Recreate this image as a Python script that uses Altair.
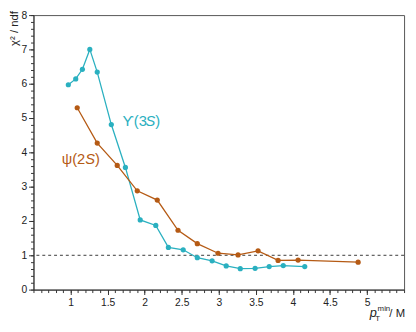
import altair as alt
import pandas as pd

# Upsilon(3S) series
ups_x = [0.97, 1.07, 1.16, 1.26, 1.36, 1.55, 1.74, 1.94, 2.15, 2.32, 2.52, 2.71, 2.91, 3.10, 3.29, 3.49, 3.68, 3.87, 4.16]
ups_y = [5.97, 6.14, 6.42, 7.00, 6.34, 4.81, 3.56, 2.03, 1.87, 1.23, 1.16, 0.93, 0.84, 0.69, 0.61, 0.62, 0.67, 0.70, 0.67]
# psi(2S) series
psi_x = [1.09, 1.36, 1.63, 1.90, 2.17, 2.45, 2.71, 2.99, 3.26, 3.53, 3.80, 4.07, 4.88]
psi_y = [5.30, 4.27, 3.62, 2.88, 2.61, 1.73, 1.34, 1.06, 1.01, 1.13, 0.85, 0.86, 0.80]

x_major = [1, 1.5, 2, 2.5, 3, 3.5, 4, 4.5, 5]
x_minor = [round(0.5 + 0.1 * i, 2) for i in range(51)]
y_major = [0, 1, 2, 3, 4, 5, 6, 7, 8]
y_minor = [round(0.2 * i, 2) for i in range(41)]

TEAL = "#2AB0C0"
ORANGE = "#B55A14"
FONT = "Liberation Sans"

ups = pd.DataFrame({"x": ups_x, "y": ups_y})
psi = pd.DataFrame({"x": psi_x, "y": psi_y})

xs = alt.Scale(domain=[0.5, 5.5], nice=False, zero=False)
ys = alt.Scale(domain=[0, 8], nice=False, zero=False)

x_axis = alt.Axis(values=x_major, title=None, tickSize=5, labelFontSize=10.5, labelFont=FONT,
                  labelColor="#222", domainColor="#333", tickColor="#333", grid=False,
                  labelPadding=3, labelFlush=False, orient="bottom", format="~g")
y_axis = alt.Axis(values=y_major, title=None, tickSize=5, labelFontSize=10.5, labelFont=FONT,
                  labelColor="#222", domainColor="#333", tickColor="#333", grid=False,
                  labelPadding=2, orient="left", format="~g")
x_axis_minor = alt.Axis(values=x_minor, title=None, tickSize=3, labels=False, domain=False,
                        tickColor="#333", grid=False, orient="bottom")
y_axis_minor = alt.Axis(values=y_minor, title=None, tickSize=3, labels=False, domain=False,
                        tickColor="#333", grid=False, orient="left")

pt = dict(size=28, opacity=1, filled=True)

ups_line = alt.Chart(ups).mark_line(color=TEAL, strokeWidth=1.3, point=alt.OverlayMarkDef(color=TEAL, **pt)).encode(
    x=alt.X("x:Q", scale=xs, axis=x_axis),
    y=alt.Y("y:Q", scale=ys, axis=y_axis),
)
psi_line = alt.Chart(psi).mark_line(color=ORANGE, strokeWidth=1.3, point=alt.OverlayMarkDef(color=ORANGE, **pt)).encode(
    x=alt.X("x:Q", scale=xs, axis=None),
    y=alt.Y("y:Q", scale=ys, axis=None),
)

minor = alt.Chart(pd.DataFrame({"x": [0.5], "y": [0]})).mark_point(opacity=0).encode(
    x=alt.X("x:Q", scale=xs, axis=x_axis_minor),
    y=alt.Y("y:Q", scale=ys, axis=y_axis_minor),
)

ref = alt.Chart(pd.DataFrame({"y": [1]})).mark_rule(color="#222", strokeDash=[3, 3], strokeWidth=0.9).encode(
    y=alt.Y("y:Q", scale=ys, axis=None)
)

# Series labels (data coordinates)
lab_ups = pd.DataFrame({"x": [1.70], "y": [4.77]})
lab_psi = pd.DataFrame({"x": [0.88], "y": [3.66]})

def label(df, color, parts):
    layers = []
    for text, dx, italic in parts:
        layers.append(alt.Chart(df).mark_text(text=text, color=color, fontSize=15, font=FONT,
                                              fontStyle="italic" if italic else "normal",
                                              align="left", baseline="alphabetic", dx=dx).encode(
            x=alt.X("x:Q", scale=xs, axis=None), y=alt.Y("y:Q", scale=ys, axis=None)))
    return layers

ups_lab = label(lab_ups, TEAL, [("ϒ(3", 0, False), ("S", 23.5, True), (")", 33.5, False)])
psi_lab = label(lab_psi, ORANGE, [("ψ(2", 0, False), ("S", 24, True), (")", 34, False)])

# axis titles as text
ytitle = alt.Chart(pd.DataFrame({"t": ["χ² / ndf"]})).mark_text(
    angle=270, align="right", baseline="middle", fontSize=11.5, font=FONT, color="#222").encode(
    text="t:N", x=alt.value(-19), y=alt.value(-4))

def tt(text, xv, yv, size, italic=False):
    return alt.Chart(pd.DataFrame({"t": [text]})).mark_text(
        align="left", baseline="alphabetic", fontSize=size, font=FONT, color="#222",
        fontStyle="italic" if italic else "normal").encode(text="t:N", x=alt.value(xv), y=alt.value(yv))

xt = [tt("p", 343, 308, 13, True), tt("min", 351, 302, 8), tt("T", 348.5, 312, 8), tt("/ M", 363, 308, 11.5)]

chart = alt.layer(minor, ref, ups_line, psi_line, *ups_lab, *psi_lab, ytitle, *xt).resolve_axis(
    x="independent", y="independent"
).properties(
    width=378, height=280,
    padding={"left": 26, "top": 4, "right": 4, "bottom": 40},
    autosize=alt.AutoSizeParams(type="none"),
).configure_view(stroke="#555", strokeWidth=1)

chart.save("out.html", embed_options={"renderer": "svg", "actions": False})
